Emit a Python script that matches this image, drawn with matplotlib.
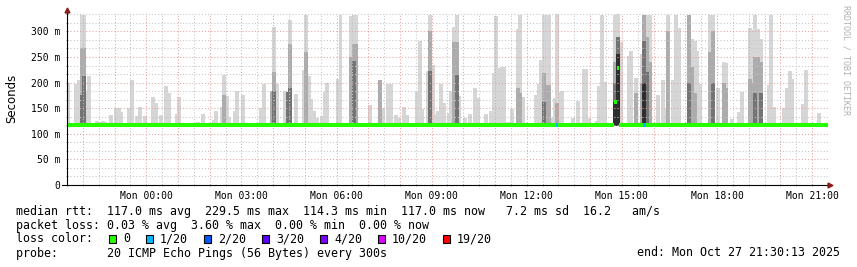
import numpy as np
import matplotlib.pyplot as plt
from matplotlib.patches import Rectangle
from matplotlib.ticker import FixedLocator, FuncFormatter

W, H = 857, 267
MONO = 'DejaVu Sans Mono'

# 288 steps of 5 min, starting Sun 21:30 (hours relative to Mon 00:00)
n_steps = 288
hours = -2.5 + np.arange(n_steps) / 12.0

# median rtt (ms) per half hour
median_halfhour = [116.5, 117.5, 117.5, 117.5, 117.5, 117, 117.5, 117.5, 117.5, 117,
                   117.5, 117.5, 117, 117, 117.5, 117.5, 117, 117.5, 117.5, 117.5,
                   117, 117.5, 117.5, 117.5, 117.5, 117, 117, 117.5, 117.5, 117.5,
                   117, 117.5, 117, 117.5, 117.5, 116.5, 117, 117.5, 117.5, 117,
                   117.5, 117.5, 117, 116.5, 117, 117.5, 117, 117.5]
median_peak_step = [207, 208]
median_peak_ms = [162.0, 229.5]

loss_step = [185, 218]
loss_pings = [1, 1]
loss_labels = ['0', '1/20', '2/20', '3/20', '4/20', '10/20', '19/20']
loss_values = [0, 1, 2, 3, 4, 10, 19]
loss_colors = ['#26ff00', '#00b8ff', '#0059ff', '#5e00ff', '#7e00ff', '#dd00ff', '#ff0000']

# smoke: step -> ms, lightest layer (max ping)
smoke_max = {
    0: 200, 3: 197, 4: 205, 5: 333, 6: 333, 7: 181, 8: 213, 11: 125, 12: 124,
    13: 126, 14: 123, 16: 137, 18: 151, 19: 151, 20: 142, 23: 150, 24: 205,
    26: 135, 27: 153, 29: 135, 32: 172, 33: 160, 35: 137, 37: 194, 38: 180,
    41: 139, 42: 171, 49: 124, 51: 139, 55: 127, 56: 145, 58: 152, 59: 215,
    60: 173, 61: 133, 63: 145, 64: 184, 66: 176, 73: 150, 74: 197, 77: 184,
    78: 309, 79: 198, 82: 183, 83: 181, 84: 323, 86: 177, 89: 225, 90: 333,
    91: 212, 92: 168, 93: 144, 94: 131, 96: 134, 97: 181, 98: 200, 102: 208,
    103: 333, 107: 330, 108: 333, 109: 333, 114: 157, 118: 205, 119: 150,
    121: 197, 122: 198, 124: 137, 125: 131, 127: 153, 128: 136, 132: 182,
    133: 281, 134: 148, 136: 223, 137: 333, 138: 235, 139: 139, 140: 145,
    141: 197, 142: 160, 144: 140, 145: 183, 146: 309, 147: 333, 148: 173,
    150: 131, 152: 139, 154: 189, 155: 169, 158: 139, 160: 144, 161: 218,
    162: 330, 163: 229, 164: 231, 165: 231, 166: 124, 167: 124, 168: 148,
    170: 304, 171: 333, 172: 171, 177: 175, 178: 197, 179: 245, 180: 333,
    181: 333, 182: 333, 183: 131, 184: 169, 185: 335, 186: 181, 187: 183,
    191: 131, 193: 164, 195: 226, 196: 226, 197: 131, 200: 125, 201: 193,
    202: 333, 203: 201, 207: 333, 208: 335, 209: 280, 212: 252, 213: 262,
    215: 210, 217: 255, 218: 333, 219: 333, 220: 333, 223: 176, 225: 205,
    226: 148, 227: 333, 229: 205, 230: 333, 231: 307, 235: 333, 236: 285,
    237: 281, 238: 262, 239: 197, 243: 333, 244: 333, 246: 189, 248: 240,
    249: 239, 251: 128, 254: 142, 255: 182, 258: 307, 259: 302, 260: 333,
    261: 304, 262: 285, 265: 196, 266: 333, 267: 153, 271: 150, 272: 189,
    273: 222, 274: 208, 278: 158, 279: 224, 284: 140,
}
# medium grey layer
smoke_mid = {
    5: 268, 6: 268, 59: 175, 77: 184, 78: 221, 83: 181, 84: 275, 90: 260,
    107: 250, 108: 275, 109: 275, 118: 205, 137: 300, 146: 280, 147: 280,
    170: 189, 171: 180, 180: 218, 181: 196, 182: 196, 185: 160, 207: 240,
    208: 290, 215: 180, 217: 200, 218: 333, 219: 290, 220: 240, 227: 300,
    235: 333, 236: 230, 237: 180, 243: 260, 244: 300, 248: 200, 249: 190,
    258: 208, 259: 200, 260: 250, 261: 250, 262: 240,
}
# dark grey layer
smoke_dark = {
    5: 175, 6: 212, 78: 184, 83: 181, 84: 190, 108: 243, 137: 222, 147: 215,
    180: 163, 207: 200, 208: 290, 218: 281, 219: 220, 235: 200, 244: 200,
    260: 180, 262: 180,
}
# near black core
smoke_core = {207: 163, 208: 255, 218: 200}

ymax = 336.0

# ---- build arrays
median = np.repeat(median_halfhour, 6).astype(float)
med = median.copy()
med[median_peak_step] = median_peak_ms
loss = np.zeros(n_steps, int)
loss[loss_step] = loss_pings
loss_map = dict(zip(loss_values, loss_colors))
base = median - 3

fig = plt.figure(figsize=(W / 100, H / 100), dpi=100)
fig.patch.set_facecolor('white')
ax = fig.add_axes([67 / W, (H - 185) / H, (828 - 67) / W, (185 - 13) / H])

step = 1 / 12
layers = [(smoke_max, '#d6d6d6'), (smoke_mid, '#acacac'),
          (smoke_dark, '#747474'), (smoke_core, '#2e2e2e')]
for layer, color in layers:
    idx = np.array(list(layer.keys()))
    val = np.array(list(layer.values()), float)
    ax.bar(hours[idx] + step / 2, val - base[idx], bottom=base[idx],
           width=1.5 * step, align='center', color=color, linewidth=0,
           zorder=1)

ax.hlines(med, hours, hours + step, colors=[loss_map[l] for l in loss],
          lw=2.9, zorder=3, capstyle='butt')

ax.set_xlim(-2.5, 21.5)
ax.set_ylim(0, ymax)

ax.xaxis.set_major_locator(FixedLocator(np.arange(-2, 22)))
ax.xaxis.set_minor_locator(FixedLocator(np.arange(-2.5, 21.6, 1.0)))
ax.xaxis.set_major_formatter(FuncFormatter(
    lambda v, p: 'Mon %02d:00' % v if v >= 0 and int(v) % 3 == 0 else ''))
yminor = [v for v in np.arange(0, ymax, 50 / 3) if round(v) % 50 != 0]
ax.yaxis.set_major_locator(FixedLocator(np.arange(0, 301, 50)))
ax.yaxis.set_minor_locator(FixedLocator(yminor))
ax.yaxis.set_major_formatter(FuncFormatter(
    lambda v, p: '0' if v == 0 else '%d m' % v))

ax.set_axisbelow(False)
ax.grid(which='major', color='#e8a0a0', ls=(0, (1, 2)), lw=0.75)
ax.grid(which='minor', color='#c4c4c4', ls=(0, (1, 2)), lw=0.75)
ax.tick_params(which='both', length=2, width=0.7, direction='inout',
               color='#909090', labelsize=7, pad=3)
ax.tick_params(axis='y', pad=4)
for lab in ax.get_xticklabels() + ax.get_yticklabels():
    lab.set_family(MONO)

for s in ax.spines.values():
    s.set_visible(False)
ax.plot([0, 0], [0, 1.017], transform=ax.transAxes, color='#000000', lw=0.8,
        clip_on=False, zorder=4)
ax.plot([-0.0066, 1.0026], [0, 0], transform=ax.transAxes, color='#000000',
        lw=0.8, clip_on=False, zorder=4)
ax.plot(0, 1.017, marker='^', color='#8b1a1a', ms=3.5, transform=ax.transAxes,
        clip_on=False, zorder=5)
ax.plot(1.0026, 0, marker='>', color='#8b1a1a', ms=3.5, transform=ax.transAxes,
        clip_on=False, zorder=5)


def ftext(x, y, s, **kw):
    fig.text(x / W, 1 - y / H, s, **kw)


ftext(12, 98, 'Seconds', rotation=90, ha='center', va='center', fontsize=8.5)
ftext(846, 60, 'RRDTOOL / TOBI OETIKER', rotation=270, ha='center',
      va='center', fontsize=6, family=MONO, color='#b0b0b0')

fs = 8.4
ftext(16, 211, 'median rtt:  117.0 ms avg  229.5 ms max  114.3 ms min  '
      '117.0 ms now   7.2 ms sd  16.2   am/s', family=MONO, fontsize=fs, va='center')
ftext(16, 225, 'packet loss: 0.03 % avg  3.60 % max  0.00 % min  0.00 % now',
      family=MONO, fontsize=fs, va='center')
ftext(16, 239, 'loss color:', family=MONO, fontsize=fs, va='center')
bx = 109
for lab, col in zip(loss_labels, loss_colors):
    fig.add_artist(Rectangle((bx / W, 1 - 243 / H), 7 / W, 8 / H,
                             transform=fig.transFigure, facecolor=col,
                             edgecolor='black', lw=0.8))
    ftext(bx + 14, 239, lab, family=MONO, fontsize=fs, va='center')
    bx += 7 * (len(lab) + 2) + 16
ftext(16, 253, 'probe:       20 ICMP Echo Pings (56 Bytes) every 300s',
      family=MONO, fontsize=fs, va='center')
ftext(840, 253, 'end: Mon Oct 27 21:30:13 2025', family=MONO, fontsize=fs,
      va='center', ha='right')

fig.savefig('out.png', dpi=100)
